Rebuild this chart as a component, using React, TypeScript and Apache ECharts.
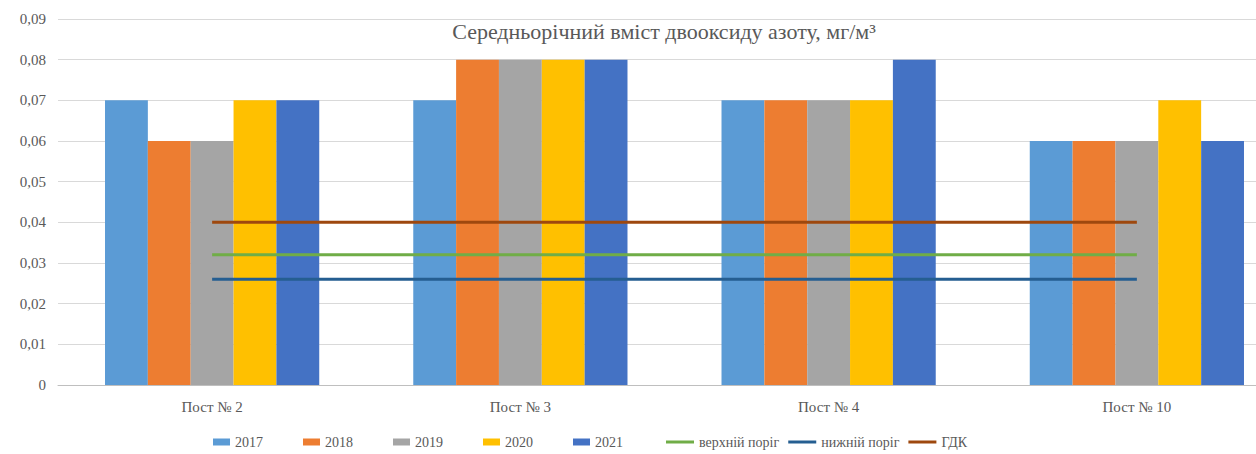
import React, { useEffect, useRef } from "react";
import * as echarts from "echarts";

const categories = ["Пост № 2", "Пост № 3", "Пост № 4", "Пост № 10"];
const years = ["2017", "2018", "2019", "2020", "2021"];
const v2017 = [0.07, 0.07, 0.07, 0.06];
const v2018 = [0.06, 0.08, 0.07, 0.06];
const v2019 = [0.06, 0.08, 0.07, 0.06];
const v2020 = [0.07, 0.08, 0.07, 0.07];
const v2021 = [0.07, 0.08, 0.08, 0.06];
const upperThreshold = [0.032, 0.032, 0.032, 0.032];
const lowerThreshold = [0.026, 0.026, 0.026, 0.026];
const gdk = [0.04, 0.04, 0.04, 0.04];
const barColors = ["#5B9BD5", "#ED7D31", "#A5A5A5", "#FFC000", "#4472C4"];
const lineNames = ["верхній поріг", "нижній поріг", "ГДК"];
const lineColors = ["#70AD47", "#255E91", "#9E480E"];

export default function App() {
  const ref = useRef<HTMLDivElement>(null);
  useEffect(() => {
    const chart = echarts.init(ref.current!, null, { renderer: "svg" });
    const barData = [v2017, v2018, v2019, v2020, v2021];
    const lineData = [upperThreshold, lowerThreshold, gdk];
    const font = "Liberation Serif";
    const txt = "#595959";
    chart.setOption({
      animation: false,
      backgroundColor: "#ffffff",
      textStyle: { fontFamily: font },
      title: {
        text: "Середньорічний вміст двооксиду азоту, мг/м³",
        left: 659,
        top: 15,
        textAlign: "center",
        textStyle: { fontFamily: font, fontSize: 22, fontWeight: "normal", color: txt },
      },
      legend: [
        {
          left: 208,
          top: 430,
          itemWidth: 17,
          itemHeight: 7,
          itemGap: 40,
          textStyle: { fontFamily: font, fontSize: 14, color: txt },
          data: years.map((y) => ({ name: y, icon: "rect" })),
        },
        {
          left: 661,
          top: 430,
          itemWidth: 28,
          itemHeight: 3,
          itemGap: 9,
          textStyle: { fontFamily: font, fontSize: 14, color: txt },
          data: lineNames.map((n) => ({ name: n, icon: "rect" })),
        },
      ],
      grid: { left: 58, width: 1233, top: 19, bottom: 69 },
      xAxis: {
        type: "category",
        data: categories,
        axisTick: { show: false },
        axisLine: { lineStyle: { color: "#bfbfbf" } },
        axisLabel: { fontFamily: font, fontSize: 15, color: txt, margin: 14 },
      },
      yAxis: {
        type: "value",
        min: 0,
        max: 0.09,
        interval: 0.01,
        axisLabel: {
          fontFamily: font,
          fontSize: 15,
          color: txt,
          margin: 12,
          formatter: (v: number) => (v === 0 ? "0" : v.toFixed(2).replace(".", ",")),
        },
        splitLine: { lineStyle: { color: "#d9d9d9" } },
        axisLine: { show: false },
        axisTick: { show: false },
      },
      series: [
        ...years.map((y, i) => ({
          name: y,
          type: "bar",
          data: barData[i],
          barGap: "0%",
          barCategoryGap: "30.5%",
          itemStyle: { color: barColors[i] },
        })),
        ...lineNames.map((n, i) => ({
          name: n,
          type: "line",
          data: lineData[i],
          symbol: "none",
          lineStyle: { width: 3, color: lineColors[i] },
          itemStyle: { color: lineColors[i] },
          z: 3,
        })),
      ],
    });
    return () => chart.dispose();
  }, []);
  return (
    <div style={{ position: "absolute", left: 0, top: 0, width: 1256, height: 454, overflow: "hidden" }}>
      <div ref={ref} style={{ width: 1300, height: 454 }} />
    </div>
  );
}
